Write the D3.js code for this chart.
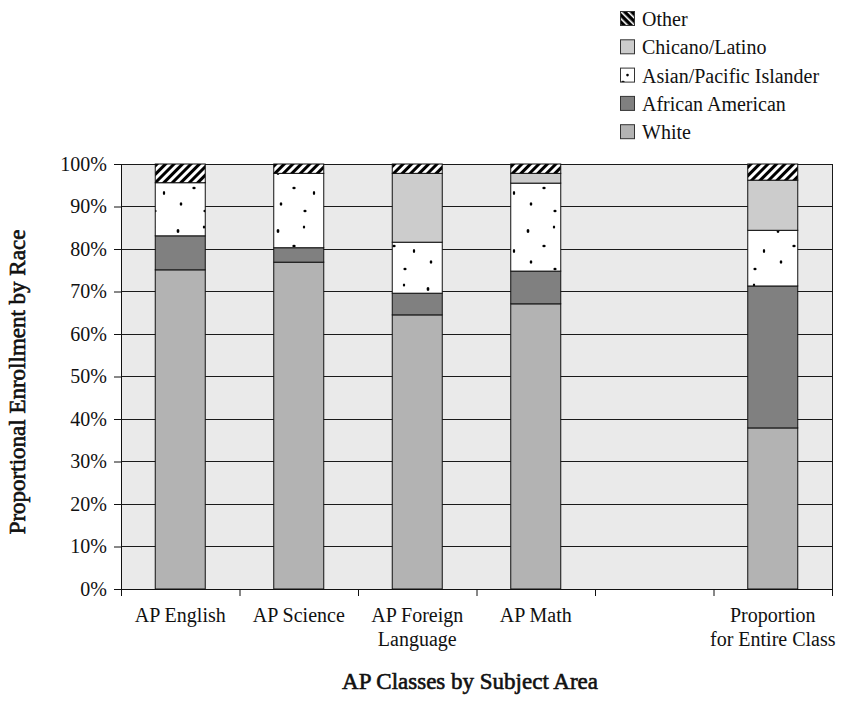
<!DOCTYPE html>
<html>
<head>
<meta charset="utf-8">
<script src="https://cdn.jsdelivr.net/npm/d3@7"></script>
<style>
  body { margin: 0; background: #fff; }
  svg text, svg tspan { font-family: "Liberation Serif", serif !important; }
</style>
</head>
<body>
<svg id="chart" width="841" height="718"></svg>
<script>
// Enrollment shares (percent) by race for each AP subject area
const categories = ["AP English", "AP Science", "AP Foreign Language", "AP Math", "", "Proportion for Entire Class"];
const tickLabels = [["AP English"], ["AP Science"], ["AP Foreign", "Language"], ["AP Math"], [], ["Proportion", "for Entire Class"]];
const seriesNames = ["White", "African American", "Asian/Pacific Islander", "Chicano/Latino", "Other"];
const white           = [75.1, 76.9, 64.5, 67.1, null, 37.9];
const africanAmerican = [ 8.0,  3.4,  5.1,  7.7, null, 33.4];
const asianPacific    = [12.5, 17.5, 12.0, 20.7, null, 13.1];
const chicanoLatino   = [ 0.0,  0.0, 16.2,  2.3, null, 11.8];
const other           = [ 4.4,  2.2,  2.2,  2.2, null,  3.8];
const yTicks = [0, 10, 20, 30, 40, 50, 60, 70, 80, 90, 100];

const seriesValues = [white, africanAmerican, asianPacific, chicanoLatino, other];
const FONT = "Liberation Serif, serif";

const svg = d3.select("#chart").attr("font-family", FONT);
const margin = { top: 164, right: 9, bottom: 129, left: 121 };
const W = 841 - margin.left - margin.right;
const H = 718 - margin.top - margin.bottom;

// Patterns: dotted white for Asian/Pacific Islander, diagonal hatch for Other
const defs = svg.append("defs");
const dots = defs.append("pattern").attr("id", "dots")
  .attr("patternUnits", "userSpaceOnUse").attr("width", 50).attr("height", 58);
dots.append("rect").attr("width", 50).attr("height", 58).attr("fill", "#fff");
[[7, 9, 1.4, 1.9], [33, 5, 1.2, 1.6], [23, 24, 1.7, 1.2], [43, 29, 1.2, 2.0],
 [10, 40, 1.3, 1.7], [34, 47, 1.6, 1.3]]
  .forEach(([cx, cy, rx, ry]) => dots.append("ellipse")
    .attr("cx", cx).attr("cy", cy).attr("rx", rx).attr("ry", ry).attr("fill", "#000"));

const hatch = defs.append("pattern").attr("id", "hatch")
  .attr("patternUnits", "userSpaceOnUse").attr("width", 6).attr("height", 6)
  .attr("patternTransform", "rotate(45)");
hatch.append("rect").attr("width", 6).attr("height", 6).attr("fill", "#fff");
hatch.append("rect").attr("width", 3).attr("height", 6).attr("fill", "#000");

const hatchKey = defs.append("pattern").attr("id", "hatchKey")
  .attr("patternUnits", "userSpaceOnUse").attr("width", 5).attr("height", 5)
  .attr("patternTransform", "rotate(-45)");
hatchKey.append("rect").attr("width", 5).attr("height", 5).attr("fill", "#000");
hatchKey.append("rect").attr("width", 1.6).attr("height", 5).attr("fill", "#fff");

const fills = {
  "White": "#b3b3b3",
  "African American": "#808080",
  "Asian/Pacific Islander": "url(#dots)",
  "Chicano/Latino": "#cccccc",
  "Other": "url(#hatch)"
};

const g = svg.append("g").attr("transform", `translate(${margin.left},${margin.top})`);

// Scales
const x = d3.scaleBand().domain(categories).range([0, W])
  .paddingInner(0.578).paddingOuter(0.289);
const slots = d3.scaleLinear().domain([0, categories.length]).range([0, W]);
const y = d3.scaleLinear().domain([0, 100]).range([H, 0]);

// Plot background and gridlines
g.append("rect").attr("width", W).attr("height", H).attr("fill", "#eaeaea");
g.append("g").selectAll("line").data(yTicks.filter(d => d > 0)).join("line")
  .attr("x1", 0).attr("x2", W)
  .attr("y1", d => y(d)).attr("y2", d => y(d))
  .attr("stroke", "#1a1a1a").attr("stroke-width", 1).attr("shape-rendering", "crispEdges");
g.append("line").attr("x1", W).attr("x2", W).attr("y1", 0).attr("y2", H)
  .attr("stroke", "#1a1a1a").attr("shape-rendering", "crispEdges");

// Stacked bars
const rows = categories.map((c, i) => {
  const r = { category: c };
  seriesNames.forEach((s, k) => { r[s] = seriesValues[k][i]; });
  return r;
}).filter(r => r[seriesNames[0]] !== null);

const stacked = d3.stack().keys(seriesNames)(rows);

g.append("g").selectAll("g").data(stacked).join("g")
  .attr("fill", d => fills[d.key])
  .selectAll("rect").data(d => d).join("rect")
  .attr("x", d => x(d.data.category))
  .attr("width", x.bandwidth())
  .attr("y", d => y(d[1]))
  .attr("height", d => y(d[0]) - y(d[1]))
  .attr("stroke", "#111").attr("stroke-width", 1);

// Y axis
const yAxis = g.append("g")
  .call(d3.axisLeft(y).tickValues(yTicks).tickFormat("")
    .tickSizeInner(7).tickSizeOuter(0));
yAxis.attr("font-family", FONT);
yAxis.selectAll("line, path").attr("stroke", "#111");
yAxis.selectAll(".tick").append("text")
  .attr("x", -14).attr("dy", "0.32em").attr("text-anchor", "end")
  .attr("font-family", FONT).attr("font-size", 20).attr("fill", "#111")
  .text(d => d + "%");

// X axis: tick marks at slot boundaries
const xTicks = g.append("g").attr("transform", `translate(0,${H})`)
  .call(d3.axisBottom(slots).tickValues(d3.range(categories.length + 1))
    .tickFormat("").tickSizeInner(7).tickSizeOuter(0));
xTicks.selectAll("line, path").attr("stroke", "#111");

// X axis category labels
const xLabels = g.append("g").attr("transform", `translate(0,${H})`)
  .call(d3.axisBottom(x).tickSize(0).tickFormat(""));
xLabels.attr("font-family", FONT);
xLabels.select(".domain").remove();
xLabels.selectAll(".tick").each(function (d, i) {
  const t = d3.select(this).append("text")
    .attr("text-anchor", "middle").attr("y", 33)
    .attr("font-family", FONT).attr("font-size", 20).attr("fill", "#111");
  tickLabels[i].forEach((line, j) => {
    t.append("tspan").attr("x", 0).attr("dy", j === 0 ? 0 : 24).text(line);
  });
});

// Axis titles
svg.append("text")
  .attr("transform", "translate(25,382) rotate(-90)")
  .attr("text-anchor", "middle")
  .attr("font-family", FONT).attr("font-size", 23)
  .attr("fill", "#111").attr("stroke", "#111").attr("stroke-width", 0.6)
  .text("Proportional Enrollment by Race");
svg.append("text")
  .attr("x", 470).attr("y", 689)
  .attr("text-anchor", "middle")
  .attr("font-family", FONT).attr("font-size", 23)
  .attr("fill", "#111").attr("stroke", "#111").attr("stroke-width", 0.6)
  .text("AP Classes by Subject Area");

// Legend (top of stack listed first)
const legend = svg.append("g").attr("font-family", FONT);
const keyFills = Object.assign({}, fills, { "Other": "url(#hatchKey)" });
seriesNames.slice().reverse().forEach((name, i) => {
  const base = 26 + i * 28.3;
  legend.append("rect")
    .attr("x", 620.5).attr("y", base - 14.5).attr("width", 14).attr("height", 14)
    .attr("fill", keyFills[name]).attr("stroke", "#333").attr("stroke-width", 1);
  if (name === "Asian/Pacific Islander") {
    legend.append("circle").attr("cx", 627.5).attr("cy", base - 7.5).attr("r", 1.3).attr("fill", "#000");
  }
  legend.append("text").attr("x", 642).attr("y", base)
    .attr("font-family", FONT).attr("font-size", 20).attr("fill", "#111")
    .text(name);
});
</script>
</body>
</html>
